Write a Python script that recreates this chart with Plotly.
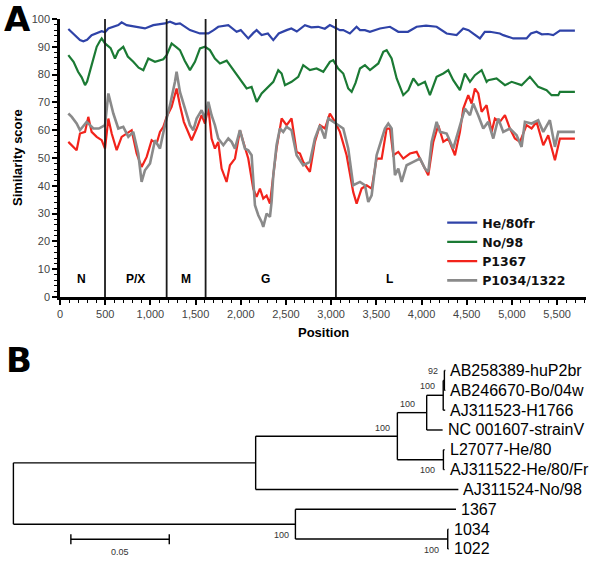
import plotly.graph_objects as go

# ---------------- Panel A data ----------------
he80_pos = [92,150,221,258,300,350,400,461,498,535,645,682,737,848,940,1032,1161,1217,1280,1327,1400,1438,1548,1641,1700,1751,1862,1954,2000,2083,2140,2175,2231,2300,2360,2420,2507,2560,2620,2710,2780,2857,2930,2986,3050,3097,3134,3207,3281,3319,3374,3429,3540,3651,3743,3850,3946,4050,4167,4278,4388,4462,4520,4572,4646,4700,4757,4867,4904,5015,5125,5162,5210,5273,5330,5400,5457,5531,5697]
he80_val = [96.4,94.5,92.4,92,92.5,94.2,94.8,95.6,95.2,96.6,97.8,98.8,97.8,97.2,96.6,97.8,98.4,99,98.2,98.4,97,96,94.8,94.8,96,97.2,97.8,95.4,96,93,95,96,94.2,94.8,92.4,94.8,96,96.6,95.5,97.8,97,97.2,96.5,97.8,96.8,96,96,94.8,97.2,96,96,95.4,96.6,97.2,95.4,95.4,97.2,97.6,97.2,94.8,94.2,96.6,96,94.8,93,95.4,95.4,94.8,94.2,93,92.8,93,94.8,95.4,94.5,94.6,94.2,95.8,95.8]

no98_pos = [92,150,200,240,277,300,350,406,440,461,498,516,560,608,645,700,750,811,870,922,977,1051,1100,1143,1180,1235,1290,1327,1380,1438,1493,1549,1604,1659,1714,1770,1844,1917,1991,2065,2120,2176,2231,2286,2360,2415,2452,2489,2562,2636,2691,2765,2839,2913,2986,3023,3078,3134,3189,3227,3270,3319,3374,3430,3522,3577,3614,3669,3725,3798,3854,3909,3964,4038,4093,4167,4241,4296,4351,4425,4480,4536,4591,4665,4720,4738,4830,4923,4997,5107,5199,5291,5384,5439,5513,5531,5697]
no98_val = [87,84.6,81,79,76.2,77.5,83.4,90,92,93,91.2,90.6,89.5,85.8,88.5,90,86.5,84.6,82.5,81.6,85.8,84.6,85.2,85.5,87,91.2,89.8,88.8,85,81.6,84.6,89.4,90,88.8,85.8,84,85,81.6,78.6,75,75.6,70.2,73.2,75,77.4,81.6,80.4,76.2,77.4,79.2,83.4,81.6,82.2,81,84.6,85.2,82.2,80.4,75,73.8,77,82.2,83.4,81.6,84,88.2,88.8,85.8,78.6,72.6,74.4,78.6,76.2,77.4,72.6,79.2,80.4,81.6,78,74.4,80.4,77.4,79.8,81.6,77.4,78,78.6,76.2,77.4,76.2,79.2,75.6,74.4,72.6,72.6,73.8,73.8]

p1367_pos = [92,147,184,221,277,313,350,406,461,498,535,572,627,682,737,793,848,903,959,1014,1069,1106,1143,1180,1235,1290,1327,1370,1401,1456,1512,1567,1604,1641,1677,1714,1751,1788,1843,1880,1936,1991,2028,2083,2138,2175,2212,2249,2286,2323,2360,2396,2452,2507,2562,2618,2655,2691,2765,2820,2876,2931,2986,3042,3097,3171,3244,3282,3337,3393,3448,3503,3559,3614,3651,3688,3743,3798,3872,3946,4001,4075,4130,4185,4241,4296,4370,4425,4462,4517,4554,4591,4628,4665,4720,4775,4812,4867,4923,4978,5033,5089,5162,5218,5273,5347,5402,5476,5531,5697]
p1367_val = [55.8,54,52.8,58.8,59.4,64.8,59.4,57.6,56.4,53.4,64.2,58.8,52.8,57.6,58.8,60,51.6,46.8,50.4,56.4,55.2,59.4,61.2,64.8,68.4,75,69,63,60.6,56.4,60.6,65.4,62.4,68.4,57,53.4,55.8,46.2,41.4,47.4,49.8,60,55.8,49.8,39,36,39,35.4,36.5,33.6,43.8,53.4,64.2,61.8,64.2,52.2,51.6,48.6,45,55.8,61.8,60.6,66,63,59.4,51,37.8,33.6,39,40.2,39,49.8,49.8,60.6,60.6,51,52.2,49.8,51.6,52.2,48.6,43.8,55.8,61.8,55.8,57,51,59.4,67.8,72.6,69.6,75,73.2,66.6,69,59.4,64.2,63,65.4,60.6,57,55.8,61.8,60.6,63,54.6,58.2,49.2,57,57]

p1034_pos = [92,130,184,221,295,369,430,498,535,590,645,700,756,810,866,903,940,996,1051,1106,1161,1217,1272,1290,1327,1382,1438,1475,1512,1567,1604,1641,1677,1714,1751,1807,1862,1899,1936,1991,2046,2083,2120,2157,2194,2231,2249,2286,2323,2341,2360,2396,2433,2470,2507,2562,2618,2655,2691,2765,2820,2876,2931,2968,3023,3078,3134,3189,3244,3319,3374,3411,3448,3503,3540,3595,3632,3669,3706,3743,3780,3835,3909,3983,4038,4075,4112,4167,4204,4278,4351,4425,4480,4536,4572,4627,4683,4738,4794,4849,4904,4978,5052,5107,5144,5218,5291,5347,5420,5476,5513,5697]
p1034_val = [66,64.8,62.4,60,63,60.6,60.6,61.8,73.2,66,60.6,61.2,57.6,59.4,51.6,41.4,45.6,48,56.4,53.4,61.8,69,77.4,81,73.8,67.8,61.8,60,64.2,67.2,64.2,70.2,65.4,61.8,57,54.6,57,55.8,53.4,60,53.4,52.8,51,33,29.4,27,25.2,30,28.8,34.2,43.8,54.6,60.6,59.4,61.2,60,51,49.2,47.4,48.6,57,61.8,57,64.2,63,61.8,60.6,53.4,40.2,41.4,40.2,34.2,36.6,51,54.6,60.6,62.4,60.6,43.8,46.2,41.4,47.4,48.6,49.8,46.2,45,55.8,63,59.4,58.8,53.4,61.8,67.8,65.4,69.6,65.4,60.6,63,57,64.2,59.4,60.6,58.2,54,63,62.4,63.6,59.4,63.6,54,59.4,59.4]

series_names = ["He/80fr", "No/98", "P1367", "P1034/1322"]
series_colors = ["#2f43a8", "#1b7a34", "#f2231b", "#8a8a8a"]
series_widths = [2.2, 2.2, 2.2, 2.6]

boundaries = [498, 1180, 1611, 3053]
gene_names = ["N", "P/X", "M", "G", "L"]
gene_pos = [243, 840, 1394, 2279, 3650]
gene_label_y = 6.4

# ---------------- Panel B data (tree) ----------------
edge_parent = ["root", "root", "U", "U", "A", "A", "B", "B", "T", "T", "N92", "N92", "H", "H", "L", "L", "P2", "P2"]
edge_child = ["U", "L", "A", "AJ311524-No/98", "B", "H", "T", "NC 001607-strainV", "N92", "AJ311523-H1766",
              "AB258389-huP2br", "AB246670-Bo/04w", "L27077-He/80", "AJ311522-He/80/Fr", "1367", "P2", "1034", "1022"]
edge_length = [0.1231, 0.1433, 0.0720, 0.1030, 0.0149, 0.0234, 0.0084, 0.0081, 0.0006, 0.0010,
               0.0005, 0.0005, 0.0006, 0.0006, 0.0816, 0.0774, 0.0004, 0.0004]
leaf_order = ["AB258389-huP2br", "AB246670-Bo/04w", "AJ311523-H1766", "NC 001607-strainV", "L27077-He/80",
              "AJ311522-He/80/Fr", "AJ311524-No/98", "1367", "1034", "1022"]
boot_node = ["N92", "T", "B", "A", "H", "L", "P2"]
boot_value = [92, 100, 100, 100, 100, 100, 100]
scale_length = 0.05
scale_start = 0.0292
scale_label = "0.05"

# ---------------- build tree coordinates ----------------
children = {}
for p, c, l in zip(edge_parent, edge_child, edge_length):
    children.setdefault(p, []).append((c, l))
xpos = {"root": 0.0}
ypos = {}
def place(node):
    for c, l in children.get(node, []):
        xpos[c] = xpos[node] + l
        place(c)
    if node in children:
        ys = [ypos[c] for c, _ in children[node]]
        ypos[node] = (min(ys) + max(ys)) / 2
    else:
        ypos[node] = leaf_order.index(node)
place("root")

tx, ty = [], []
for p, c, l in zip(edge_parent, edge_child, edge_length):
    tx += [xpos[p], xpos[c], None]
    ty += [ypos[c], ypos[c], None]
for node, ch in children.items():
    ys = [ypos[c] for c, _ in ch]
    tx += [xpos[node], xpos[node], None]
    ty += [min(ys), max(ys), None]

fig = go.Figure()
for name, pos, val, col, w in zip(series_names, [he80_pos, no98_pos, p1367_pos, p1034_pos],
                                  [he80_val, no98_val, p1367_val, p1034_val], series_colors, series_widths):
    fig.add_trace(go.Scatter(x=pos, y=val, mode="lines", name="<b>" + name + "</b>",
                             line=dict(color=col, width=w), xaxis="x", yaxis="y"))

fig.add_trace(go.Scatter(x=tx, y=ty, mode="lines", line=dict(color="black", width=1.4),
                         showlegend=False, xaxis="x2", yaxis="y2", hoverinfo="skip"))
# scale bar
fig.add_trace(go.Scatter(x=[scale_start, scale_start + scale_length, None, scale_start, scale_start, None,
                            scale_start + scale_length, scale_start + scale_length],
                         y=[8.51, 8.51, None, 8.26, 8.76, None, 8.26, 8.76], mode="lines",
                         line=dict(color="black", width=1.4), showlegend=False, xaxis="x2", yaxis="y2",
                         hoverinfo="skip"))

for b in boundaries:
    fig.add_shape(type="line", xref="x", yref="y", x0=b, x1=b, y0=0, y1=100,
                  line=dict(color="#1a1a1a", width=1.8))

ann = []
for g, p in zip(gene_names, gene_pos):
    ann.append(dict(x=p, y=gene_label_y, xref="x", yref="y", text="<b>" + g + "</b>", showarrow=False,
                    font=dict(size=12, color="black", family="Liberation Sans")))
for lf in leaf_order:
    ann.append(dict(x=xpos[lf], y=ypos[lf], xref="x2", yref="y2", text=lf, showarrow=False,
                    xanchor="left", yanchor="middle", xshift=3,
                    font=dict(size=16, color="black", family="Liberation Sans")))
boot_shift = {"N92": (-4, 9), "T": (-6, 9), "B": (-10, 9), "A": (-5, 8), "H": (-6, -10), "L": (-4, -11), "P2": (-7, -11)}
for n, v in zip(boot_node, boot_value):
    dx, dy = boot_shift[n]
    ann.append(dict(x=xpos[n], y=ypos[n], xref="x2", yref="y2", text=str(v), showarrow=False,
                    xanchor="right", yanchor="middle", xshift=dx, yshift=dy,
                    font=dict(size=9, color="#333", family="Liberation Sans")))
ann.append(dict(x=scale_start + scale_length / 2, y=9.14, xref="x2", yref="y2", text=scale_label, showarrow=False,
                xanchor="center", yanchor="middle", font=dict(size=9, color="#333", family="Liberation Sans")))
ann.append(dict(x=18 / 600, y=1 - 158 / 568, xref="paper", yref="paper", text="<b>Similarity score</b>",
                textangle=-90, showarrow=False, xanchor="center", yanchor="middle",
                font=dict(size=13, color="black", family="Liberation Sans")))
ann.append(dict(x=323 / 600, y=1 - 332 / 568, xref="paper", yref="paper", text="<b>Position</b>",
                showarrow=False, xanchor="center", yanchor="middle",
                font=dict(size=13, color="black", family="Liberation Sans")))
ann.append(dict(x=2 / 600, y=1 - 19 / 568, xref="paper", yref="paper", text="<b>A</b>", xanchor="left",
                yanchor="middle", showarrow=False, font=dict(size=34, color="black", family="DejaVu Sans")))
ann.append(dict(x=4 / 600, y=1 - 360 / 568, xref="paper", yref="paper", text="<b>B</b>", xanchor="left",
                yanchor="middle", showarrow=False, font=dict(size=34, color="black", family="DejaVu Sans")))

fig.update_layout(
    template="none",
    width=600, height=568, margin=dict(l=0, r=0, t=0, b=0, pad=0, autoexpand=False),
    paper_bgcolor="white", plot_bgcolor="white",
    font=dict(family="Liberation Sans", color="#333"),
    annotations=ann,
    xaxis=dict(domain=[0.1, 0.9767], range=[0, 5820], showgrid=False, zeroline=False, automargin=False,
               showline=True, linecolor="black", linewidth=2.5, ticks="outside", ticklen=5, tickwidth=1.5,
               tickcolor="black", dtick=500, tick0=0, tickformat=",d",
               tickfont=dict(size=11, color="#444"),
               minor=dict(dtick=100, ticks="outside", ticklen=3, tickcolor="black", tickwidth=1)),
    yaxis=dict(domain=[1 - 297 / 568, 1 - 19 / 568], range=[0, 100], showgrid=False, zeroline=False,
               automargin=False,
               showline=True, linecolor="black", linewidth=2.5, ticks="outside", ticklen=5, tickwidth=1.5,
               tickcolor="black", dtick=10, tick0=0, tickfont=dict(size=11, color="#444"),
               minor=dict(dtick=2, ticks="outside", ticklen=3, tickcolor="black", tickwidth=1)),
    xaxis2=dict(domain=[0, 1], range=[-0.00681, 0.29807], visible=False, anchor="y2", automargin=False),
    yaxis2=dict(domain=[0, (568 - 340) / 568], range=[9.96, -1.538], visible=False, anchor="x2",
                automargin=False),
    legend=dict(x=0.737, y=1 - 208 / 568, xanchor="left", yanchor="top", bgcolor="rgba(0,0,0,0)",
                font=dict(size=12.5, color="#111", family="DejaVu Sans"), tracegroupgap=0),
    showlegend=True,
)
fig.write_html("out.html", config={"displayModeBar": False},
               post_script="document.body.style.margin='0px';document.body.style.overflow='hidden';")
